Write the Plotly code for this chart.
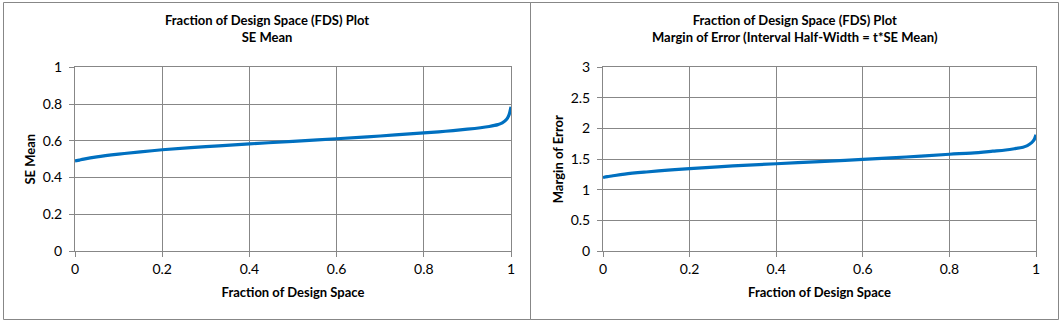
import plotly.graph_objects as go

fds = [0, 0.01, 0.02, 0.05, 0.1, 0.15, 0.2, 0.3, 0.4, 0.5, 0.6, 0.7, 0.8,
       0.85, 0.9, 0.93, 0.95, 0.97, 0.98, 0.99, 0.995, 1.0]
se_mean = [0.490, 0.495, 0.500, 0.512, 0.527, 0.540, 0.551, 0.568, 0.583, 0.597,
           0.611, 0.626, 0.643, 0.652, 0.663, 0.671, 0.678, 0.688, 0.697, 0.717,
           0.738, 0.785]
margin_err = [1.20, 1.215, 1.225, 1.255, 1.29, 1.32, 1.345, 1.39, 1.425, 1.46,
              1.495, 1.535, 1.58, 1.60, 1.63, 1.65, 1.67, 1.695, 1.72, 1.77,
              1.81, 1.90]

x_ticks = [0, 0.2, 0.4, 0.6, 0.8, 1]
x_ticklabels = ["0", "0.2", "0.4", "0.6", "0.8", "1"]
y1_ticks = [0, 0.2, 0.4, 0.6, 0.8, 1]
y1_ticklabels = ["0", "0.2", "0.4", "0.6", "0.8", "1"]
y2_ticks = [0, 0.5, 1, 1.5, 2, 2.5, 3]
y2_ticklabels = ["0", "0.5", "1", "1.5", "2", "2.5", "3"]

W, H = 1062, 327
LINE = "rgb(0,112,192)"
GRID = "#878787"
FONT = "Lato, 'Open Sans', sans-serif"

fig = go.Figure()
fig.add_trace(go.Scatter(x=fds, y=se_mean, mode="lines", line=dict(color=LINE, width=3.2, shape="spline"),
                         xaxis="x", yaxis="y", showlegend=False))
fig.add_trace(go.Scatter(x=fds, y=margin_err, mode="lines", line=dict(color=LINE, width=3.2, shape="spline"),
                         xaxis="x2", yaxis="y2", showlegend=False))

ydom = [(H - 251) / H, (H - 67.3) / H]

def xax(dom, anchor):
    return dict(domain=dom, range=[0, 1], tickvals=x_ticks, ticktext=x_ticklabels, anchor=anchor,
                showgrid=True, gridcolor=GRID, gridwidth=1, showline=True, linecolor=GRID, linewidth=1,
                mirror=True, automargin=False,
                ticks="outside", ticklen=5, tickcolor=GRID, zeroline=False,
                tickfont=dict(family=FONT, size=14, color="#000"),
                title=dict(text="<b>Fraction of Design Space</b>", font=dict(family=FONT, size=13, color="#000"), standoff=12))

def yax(vals, text, rng, anchor, title):
    return dict(domain=ydom, range=rng, tickvals=vals, ticktext=text, anchor=anchor,
                showgrid=True, gridcolor=GRID, gridwidth=1, showline=True, linecolor=GRID, linewidth=1,
                mirror=True, automargin=False, ticklabelstandoff=4,
                ticks="outside", ticklen=5, tickcolor=GRID, zeroline=False,
                tickfont=dict(family=FONT, size=14, color="#000"),
                title=dict(text="<b>" + title + "</b>", font=dict(family=FONT, size=13, color="#000"), standoff=4))

fig.update_layout(
    width=W, height=H, margin=dict(l=0, r=0, t=0, b=0, autoexpand=False),
    paper_bgcolor="white", plot_bgcolor="white",
    xaxis=xax([75 / W, 511 / W], "y"),
    yaxis=yax(y1_ticks, y1_ticklabels, [0, 1], "x", "SE Mean"),
    xaxis2=xax([603 / W, 1036 / W], "y2"),
    yaxis2=yax(y2_ticks, y2_ticklabels, [0, 3], "x2", "Margin of Error"),
    shapes=[
        dict(type="rect", xref="paper", yref="paper", x0=3.5 / W, x1=530.5 / W, y0=(H - 319.5) / H, y1=(H - 2.5) / H,
             line=dict(color=GRID, width=1)),
        dict(type="rect", xref="paper", yref="paper", x0=530.5 / W, x1=1058.5 / W, y0=(H - 319.5) / H, y1=(H - 2.5) / H,
             line=dict(color=GRID, width=1)),
    ],
    annotations=[
        dict(text="<b>Fraction of Design Space (FDS) Plot<br>SE Mean</b>", xref="paper", yref="paper",
             x=266.5 / W, y=(H - 10) / H, xanchor="center", yanchor="top", showarrow=False,
             font=dict(family=FONT, size=13, color="#000")),
        dict(text="<b>Fraction of Design Space (FDS) Plot<br>Margin of Error (Interval Half-Width = t*SE Mean)</b>",
             xref="paper", yref="paper",
             x=794.5 / W, y=(H - 10) / H, xanchor="center", yanchor="top", showarrow=False,
             font=dict(family=FONT, size=13, color="#000")),
    ],
)

fig.write_html("out.html")
